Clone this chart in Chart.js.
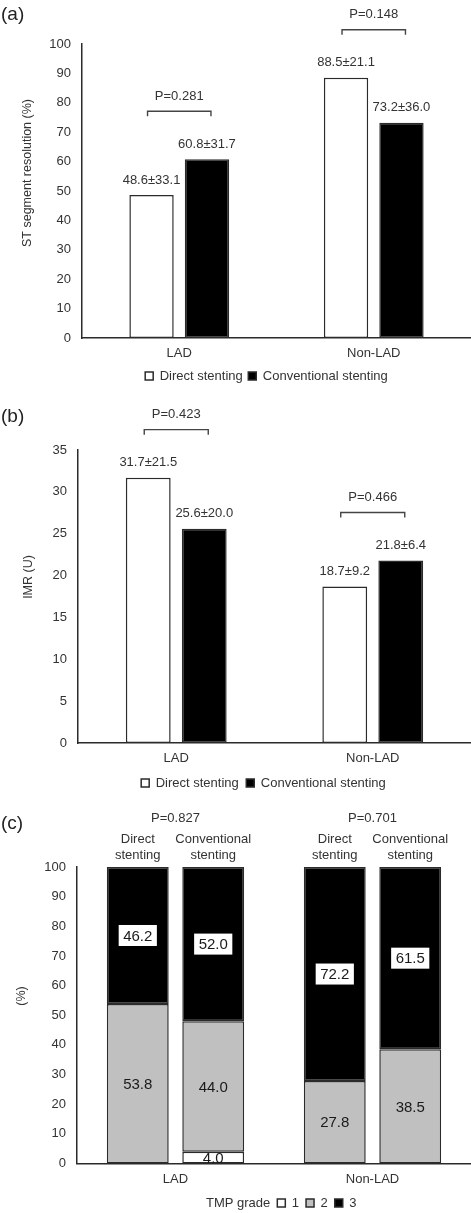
<!DOCTYPE html>
<html>
<head>
<meta charset="utf-8">
<title>Direct vs conventional stenting</title>
<script src="https://cdn.jsdelivr.net/npm/chart.js@4.4.1/dist/chart.umd.min.js"></script>
<style>
  html, body { margin: 0; padding: 0; background: #fff; }
  body { width: 471px; height: 1213px; position: relative; overflow: hidden; }
  canvas { position: absolute; left: 0; }
</style>
</head>
<body>
<canvas id="chartA" width="471" height="400" style="top:0"></canvas>
<canvas id="chartB" width="471" height="400" style="top:400px"></canvas>
<canvas id="chartC" width="471" height="430" style="top:795px"></canvas>
<script>
// --- DATA ---
const categories = ['LAD', 'Non-LAD'];
const seriesNames = ['Direct stenting', 'Conventional stenting'];

// (a) ST segment resolution (%), mean and SD
const stDirect = [48.6, 88.5];
const stDirectSD = [33.1, 21.1];
const stConventional = [60.8, 73.2];
const stConventionalSD = [31.7, 36.0];
const stPValues = ['0.281', '0.148'];
const stTicks = [0, 10, 20, 30, 40, 50, 60, 70, 80, 90, 100];

// (b) IMR (U), mean and SD
const imrDirect = [31.7, 18.7];
const imrDirectSD = [21.5, 9.2];
const imrConventional = [25.6, 21.8];
const imrConventionalSD = [20.0, 6.4];
const imrPValues = ['0.423', '0.466'];
const imrTicks = [0, 5, 10, 15, 20, 25, 30, 35];

// (c) TMP grade distribution (%)
const tmpGrades = ['1', '2', '3'];
const tmpDirectGrade1 = [0, 0];
const tmpDirectGrade2 = [53.8, 27.8];
const tmpDirectGrade3 = [46.2, 72.2];
const tmpConventionalGrade1 = [4.0, 0];
const tmpConventionalGrade2 = [44.0, 38.5];
const tmpConventionalGrade3 = [52.0, 61.5];
const tmpPValues = ['0.827', '0.701'];
const tmpTicks = [0, 10, 20, 30, 40, 50, 60, 70, 80, 90, 100];
const stackHeaders = [['Direct', 'stenting'], ['Conventional', 'stenting']];

// --- STYLE ---
const FONT = '"Liberation Sans", Arial, Helvetica, sans-serif';
const TEXT = '#333';
const LINE = '#2b2b2b';
const GRADE_COLORS = ['#ffffff', '#c0c0c0', '#000000'];
const X_AXIS_HEIGHT = 26;
const LEGEND_FONT = 13;
const CLEAR = 'rgba(0,0,0,0)';

Chart.defaults.font.family = FONT;
Chart.defaults.color = TEXT;

// --- HELPERS ---

// chart area sits at fixed pixel spots so the three panels line up
function layoutPadding(canvasHeight, top, bottom, legendPad) {
    return {
        top: top,
        left: 0,
        right: 0,
        bottom: canvasHeight - bottom - X_AXIS_HEIGHT - (LEGEND_FONT + legendPad + 10)
    };
}

function scalesFor(axisLeft, max, step, ticks, stacked) {
    return {
        x: {
            stacked: stacked,
            grid: { display: false, drawTicks: false },
            border: { display: true, color: LINE, width: 1.5 },
            ticks: { font: { size: 13 }, color: TEXT, padding: 8 },
            afterFit: (scale) => { scale.height = X_AXIS_HEIGHT; }
        },
        y: {
            stacked: stacked,
            min: 0,
            max: max,
            grid: { display: false, drawTicks: false },
            border: { display: true, color: LINE, width: 1.5 },
            ticks: { stepSize: step, font: { size: 13 }, color: TEXT, padding: 11 },
            afterBuildTicks: (scale) => { scale.ticks = ticks.map(v => ({ value: v })); },
            afterFit: (scale) => { scale.width = axisLeft; }
        }
    };
}

// panel letter and rotated y-axis title
function panelText(letter, letterY, title, titleX, titleY) {
    return {
        id: 'panelText',
        afterDraw(chart) {
            const ctx = chart.ctx;
            ctx.save();
            ctx.fillStyle = '#222';
            ctx.textBaseline = 'middle';
            ctx.textAlign = 'left';
            ctx.font = `19px ${FONT}`;
            ctx.fillText(letter, 1, letterY);
            ctx.translate(titleX, titleY);
            ctx.rotate(-Math.PI / 2);
            ctx.textAlign = 'center';
            ctx.font = `12.5px ${FONT}`;
            ctx.fillStyle = TEXT;
            ctx.fillText(title, 0, 0);
            ctx.restore();
        }
    };
}

// mean±SD above bars and P-value brackets over each group
function meanSdAnnotations(sdLists, pValues) {
    return {
        id: 'meanSd',
        afterDatasetsDraw(chart) {
            const ctx = chart.ctx;
            ctx.save();
            ctx.font = `13px ${FONT}`;
            ctx.fillStyle = TEXT;
            ctx.textAlign = 'center';
            ctx.textBaseline = 'middle';
            chart.data.datasets.forEach((ds, di) => {
                chart.getDatasetMeta(di).data.forEach((bar, i) => {
                    ctx.fillText(`${ds.data[i].toFixed(1)}±${sdLists[di][i].toFixed(1)}`, bar.x, bar.y - 15);
                });
            });
            ctx.strokeStyle = '#444';
            ctx.lineWidth = 1.4;
            pValues.forEach((p, i) => {
                const b0 = chart.getDatasetMeta(0).data[i];
                const b1 = chart.getDatasetMeta(1).data[i];
                const lineY = Math.min(b0.y, b1.y) - 48;
                const x0 = b0.x - 4;
                const x1 = b1.x + 4;
                ctx.beginPath();
                ctx.moveTo(x0, lineY + 5);
                ctx.lineTo(x0, lineY);
                ctx.lineTo(x1, lineY);
                ctx.lineTo(x1, lineY + 5);
                ctx.stroke();
                ctx.fillText('P=' + p, (x0 + x1) / 2, lineY - 15);
            });
            ctx.restore();
        }
    };
}

// default legend items plus an empty trailing slot, nudging the row left like the original
function legendWithSpacer(chart) {
    const items = Chart.defaults.plugins.legend.labels.generateLabels(chart);
    items.push({ text: '', fillStyle: CLEAR, strokeStyle: CLEAR, lineWidth: 0, hidden: false, fontColor: TEXT, datasetIndex: 0 });
    return items;
}

function groupedBarChart(id, canvasHeight, box, data, sdLists, pValues, yScale, texts) {
    const canvas = document.getElementById(id);
    return new Chart(canvas, {
        type: 'bar',
        data: {
            labels: categories,
            datasets: [{
                label: seriesNames[0],
                data: data[0],
                backgroundColor: '#ffffff',
                borderColor: LINE,
                borderWidth: 1.5,
                borderSkipped: false,
                categoryPercentage: 0.57,
                barPercentage: 0.8
            }, {
                label: seriesNames[1],
                data: data[1],
                backgroundColor: '#000000',
                borderColor: LINE,
                borderWidth: 1.5,
                borderSkipped: false,
                categoryPercentage: 0.57,
                barPercentage: 0.8
            }]
        },
        options: {
            responsive: false,
            animation: false,
            events: [],
            layout: { padding: layoutPadding(canvasHeight, box.top, box.bottom, box.legendPad) },
            scales: scalesFor(box.left, yScale.max, yScale.step, yScale.ticks, false),
            plugins: {
                tooltip: { enabled: false },
                legend: {
                    position: 'bottom',
                    fullSize: false,
                    labels: {
                        boxWidth: 8,
                        boxHeight: 8,
                        padding: box.legendPad,
                        color: TEXT,
                        font: { size: LEGEND_FONT },
                        generateLabels: legendWithSpacer
                    }
                }
            }
        },
        plugins: [meanSdAnnotations(sdLists, pValues), panelText(...texts)]
    });
}

// --- PANEL (a) ---
groupedBarChart('chartA', 400,
    { top: 44, bottom: 338, left: 82, legendPad: 5.5 },
    [stDirect, stConventional], [stDirectSD, stConventionalSD], stPValues,
    { max: 100, step: 10, ticks: stTicks },
    ['(a)', 15, 'ST segment resolution (%)', 28, 173]);

// --- PANEL (b) ---
groupedBarChart('chartB', 400,
    { top: 50, bottom: 343, left: 78, legendPad: 7.5 },
    [imrDirect, imrConventional], [imrDirectSD, imrConventionalSD], imrPValues,
    { max: 35, step: 5, ticks: imrTicks },
    ['(b)', 17, 'IMR (U)', 29, 177]);

// --- PANEL (c) ---
const tmpStacks = [
    { key: 'direct', grades: [tmpDirectGrade1, tmpDirectGrade2, tmpDirectGrade3] },
    { key: 'conventional', grades: [tmpConventionalGrade1, tmpConventionalGrade2, tmpConventionalGrade3] }
];
const tmpDatasets = [];
tmpStacks.forEach(s => {
    s.grades.forEach((values, g) => {
        tmpDatasets.push({
            label: `${s.key} grade ${tmpGrades[g]}`,
            data: values,
            stack: s.key,
            backgroundColor: GRADE_COLORS[g],
            borderColor: LINE,
            borderWidth: 1.5,
            borderSkipped: false,
            categoryPercentage: 0.766,
            barPercentage: 0.82
        });
    });
});

const tmpAnnotations = {
    id: 'tmpAnnotations',
    afterDatasetsDraw(chart) {
        const ctx = chart.ctx;
        const area = chart.chartArea;
        ctx.save();
        ctx.textAlign = 'center';
        ctx.textBaseline = 'middle';
        // values inside the stacked segments
        ctx.font = `15px ${FONT}`;
        chart.data.datasets.forEach((ds, di) => {
            const grade = di % tmpGrades.length;
            chart.getDatasetMeta(di).data.forEach((bar, i) => {
                const v = ds.data[i];
                if (!v) return;
                const text = v.toFixed(1);
                const cy = (bar.y + bar.base) / 2;
                if (grade === 2) {
                    const w = ctx.measureText(text).width + 9;
                    ctx.fillStyle = '#ffffff';
                    ctx.fillRect(bar.x - w / 2, cy - 10.5, w, 21);
                }
                ctx.fillStyle = '#1a1a1a';
                ctx.fillText(text, bar.x, cy + 1);
            });
        });
        // stack headers and P values
        ctx.font = `13px ${FONT}`;
        ctx.fillStyle = TEXT;
        tmpPValues.forEach((p, i) => {
            const xs = tmpStacks.map((s, si) => chart.getDatasetMeta(si * 3 + 2).data[i].x);
            xs.forEach((x, si) => {
                ctx.fillText(stackHeaders[si][0], x, area.top - 28);
                ctx.fillText(stackHeaders[si][1], x, area.top - 12);
            });
            ctx.fillText('P=' + p, (xs[0] + xs[1]) / 2, area.top - 49);
        });
        ctx.restore();
    }
};

new Chart(document.getElementById('chartC'), {
    type: 'bar',
    data: { labels: categories, datasets: tmpDatasets },
    options: {
        responsive: false,
        animation: false,
        events: [],
        layout: { padding: layoutPadding(430, 72, 365, 10.5) },
        scales: scalesFor(77, 100, 10, tmpTicks, true),
        plugins: {
            tooltip: { enabled: false },
            legend: {
                position: 'bottom',
                fullSize: false,
                labels: {
                    boxWidth: 8,
                    boxHeight: 8,
                    padding: 7,
                    color: TEXT,
                    font: { size: LEGEND_FONT },
                    generateLabels: () => {
                        // leading "TMP grade" caption with an invisible box
                        const items = [{
                            text: 'TMP grade', fillStyle: CLEAR, strokeStyle: CLEAR,
                            lineWidth: 0, hidden: false, fontColor: TEXT, datasetIndex: 0
                        }];
                        tmpGrades.forEach((g, i) => items.push({
                            text: g, fillStyle: GRADE_COLORS[i], strokeStyle: LINE,
                            lineWidth: 1.5, hidden: false, fontColor: TEXT, datasetIndex: i
                        }));
                        return items;
                    }
                }
            }
        }
    },
    plugins: [tmpAnnotations, panelText('(c)', 29, '(%)', 22, 201)]
});
</script>
</body>
</html>
